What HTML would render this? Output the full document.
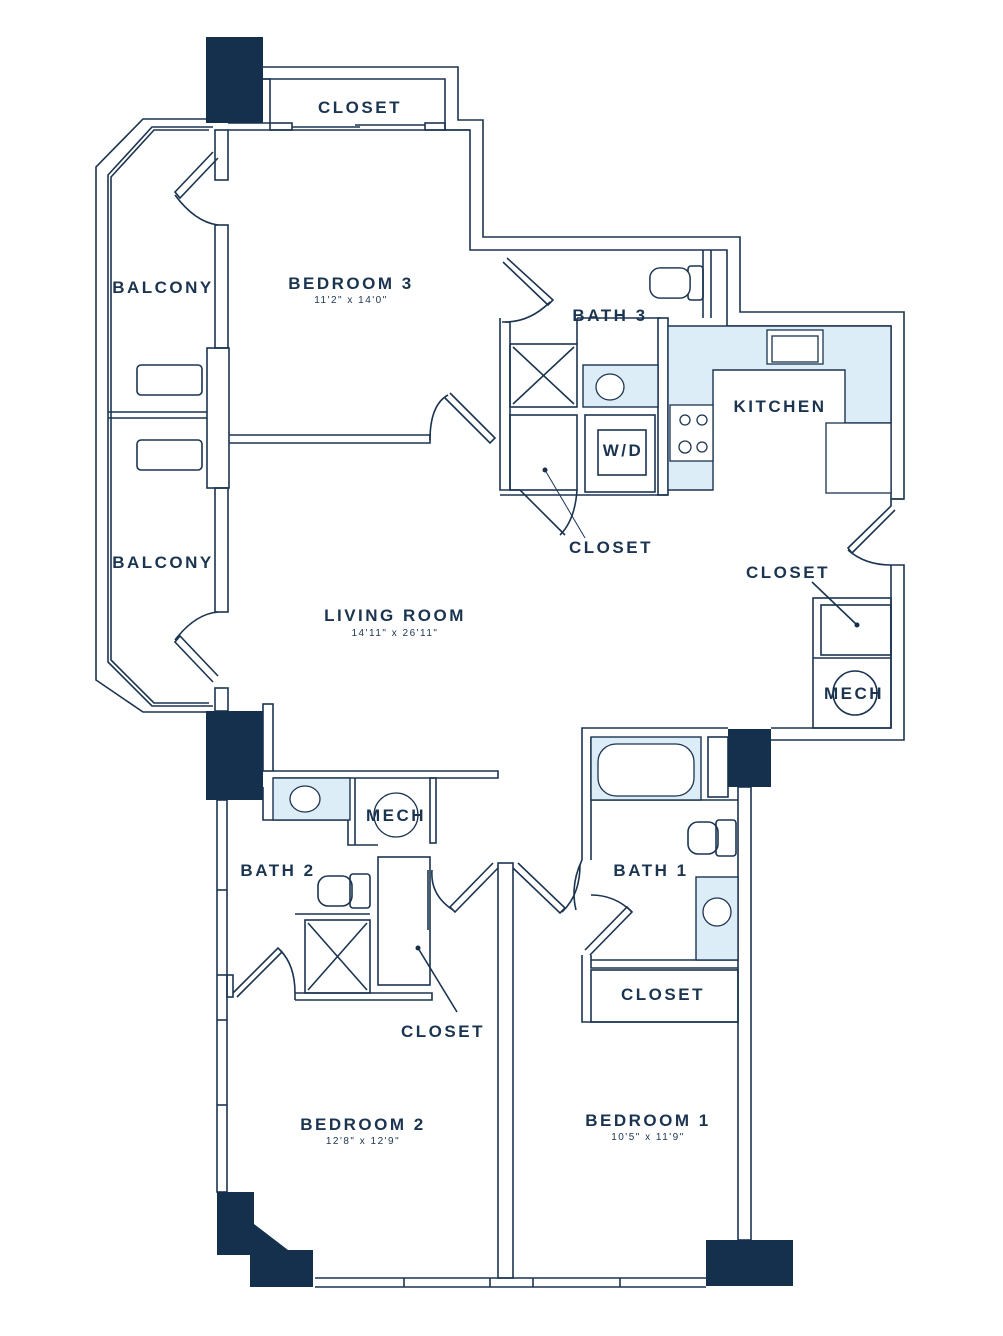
<!DOCTYPE html>
<html><head><meta charset="utf-8"><style>
html,body{margin:0;padding:0;background:#fff}
svg{display:block}
text{font-family:"Liberation Sans",sans-serif;fill:#1b3450;text-anchor:middle}
.l{font-weight:bold;font-size:17px;letter-spacing:2.5px}
.d{font-size:10px;letter-spacing:1.5px}
</style></head><body>
<svg width="1003" height="1336" viewBox="0 0 1003 1336" xmlns="http://www.w3.org/2000/svg">
<g fill="none" stroke="#1b3450" stroke-width="1.6" stroke-linejoin="miter">
<!-- top closet / exterior -->
<polyline points="263,67 458,67 458,120 483,120 483,237 740,237 740,312 904,312 904,499 891,499"/>
<polyline points="263,79 445,79 445,130 470,130 470,250 727,250 727,326 891,326 891,499"/>
<polyline points="263,79 270,79 270,123 228,123"/>
<line x1="228" y1="130" x2="470" y2="130"/>
<rect x="270" y="123" width="22" height="7"/>
<rect x="425" y="123" width="20" height="7"/>
<line x1="292" y1="127" x2="360" y2="127"/><line x1="355" y1="125" x2="425" y2="125"/>
<!-- bath3 wall segments -->
<line x1="703" y1="250" x2="703" y2="318"/><line x1="711" y1="250" x2="711" y2="318"/>
<!-- balcony -->
<polyline points="206,119 143,119 96,167 96,680 143,712 206,712"/>
<polyline points="213,127 152,127 108,175 108,662 152,706 213,706"/>
<polyline points="209,130 154,130 111,177 111,660 154,703 209,703"/>
<line x1="108" y1="412" x2="207" y2="412"/><line x1="108" y1="418" x2="207" y2="418"/>
<rect x="137" y="365" width="65" height="30" rx="4"/>
<rect x="137" y="440" width="65" height="30" rx="4"/>
<!-- bedroom3 / living left wall -->
<rect x="215" y="130" width="13" height="50"/>
<rect x="215" y="225" width="13" height="123"/>
<rect x="207" y="348" width="22" height="140"/>
<rect x="215" y="488" width="13" height="124"/>
<rect x="215" y="688" width="13" height="23"/>
<polyline points="213,152 175,192 180,198 218,158"/>
<path d="M175,195 Q195,222 218,225"/>
<polyline points="213,682 175,642 180,636 218,676"/>
<path d="M175,640 Q195,614 218,612"/>
<!-- bedroom3 bottom wall -->
<polyline points="229,435 430,435 430,443 229,443"/>
<polyline points="450,393 495,438 490,443 445,398"/>
<path d="M430,440 Q430,405 448,395"/>
<!-- bath3 door -->
<polyline points="507,258 553,300 548,305 503,262"/>
<path d="M505,322 Q530,322 550,302"/>
<!-- bath3 block -->
<polyline points="502,322 510,322 510,490 500,490 500,318"/>
<rect x="510" y="344" width="67" height="63"/>
<line x1="513" y1="347" x2="574" y2="404"/><line x1="574" y1="347" x2="513" y2="404"/>
<line x1="577" y1="318" x2="577" y2="344"/><line x1="577" y1="318" x2="660" y2="318"/>
<rect x="510" y="415" width="67" height="75"/>
<polyline points="510,490 520,490 565,535"/>
<path d="M577,490 Q575,520 560,535"/>
<rect x="585" y="415" width="70" height="77"/>
<rect x="598" y="430" width="48" height="45"/>
<line x1="500" y1="495" x2="668" y2="495"/>
<rect x="658" y="318" width="10" height="177"/>
<!-- toilet bath3 -->
<rect x="650" y="268" width="40" height="30" rx="10"/>
<rect x="688" y="266" width="15" height="34" rx="3"/>
<!-- right closet & mech -->
<polyline points="904,499 891,499 891,506 848,548 852,553 895,510"/>
<path d="M848,550 Q865,565 891,565"/>
<polyline points="891,565 904,565 904,740 771,740"/>
<line x1="891" y1="565" x2="891" y2="728"/>
<rect x="813" y="598" width="78" height="130"/>
<rect x="821" y="605" width="70" height="50"/>
<line x1="813" y1="658" x2="891" y2="658"/>
<circle cx="855" cy="693" r="22"/>
<line x1="812" y1="582" x2="857" y2="625"/>
<line x1="771" y1="728" x2="891" y2="728"/>
<!-- bath1 block -->
<polyline points="728,728 582,728 582,860"/>
<polyline points="591,737 591,860"/>
<polyline points="582,955 582,1022 738,1022"/>
<polyline points="591,955 591,968 738,968"/>
<line x1="591" y1="960" x2="738" y2="960"/>
<rect x="591" y="970" width="147" height="52"/>
<rect x="708" y="737" width="20" height="60"/>
<line x1="591" y1="800" x2="738" y2="800"/>
<rect x="688" y="822" width="30" height="32" rx="10"/>
<rect x="716" y="820" width="20" height="36" rx="3"/>
<polyline points="590,955 632,912 627,907 585,950"/>
<path d="M591,895 Q615,895 632,912"/>
<path d="M582,860 Q570,885 576,910"/>
<!-- right wall & bottom -->
<rect x="738" y="787" width="13" height="453"/>
<line x1="315" y1="1278" x2="706" y2="1278"/>
<line x1="315" y1="1287" x2="706" y2="1287"/>
<line x1="404" y1="1278" x2="404" y2="1287"/><line x1="490" y1="1278" x2="490" y2="1287"/>
<line x1="533" y1="1278" x2="533" y2="1287"/><line x1="620" y1="1278" x2="620" y2="1287"/>
<!-- bedroom divider -->
<rect x="498" y="863" width="15" height="415"/>
<polyline points="498,868 455,912 450,907 493,863"/>
<polyline points="513,868 560,913 565,908 518,863"/>
<path d="M432,870 Q430,895 453,910"/>
<path d="M580,865 Q580,895 562,912"/>
<!-- bath2 block -->
<rect x="263" y="704" width="10" height="67"/>
<polyline points="273,771 498,771 498,778 273,778"/>
<polyline points="263,787 263,820 348,820 348,845 378,845"/>
<line x1="355" y1="778" x2="355" y2="845"/>
<rect x="430" y="778" width="6" height="65"/>
<rect x="378" y="857" width="52" height="128"/>
<line x1="428" y1="870" x2="428" y2="930"/>
<line x1="418" y1="948" x2="457" y2="1012"/>
<rect x="305" y="920" width="65" height="73"/>
<line x1="308" y1="923" x2="367" y2="990"/><line x1="367" y1="923" x2="308" y2="990"/>
<polyline points="295,1000 432,1000 432,993 295,993"/>
<line x1="295" y1="993" x2="295" y2="1000"/>
<line x1="295" y1="914" x2="370" y2="914"/>
<rect x="318" y="876" width="34" height="30" rx="10"/>
<rect x="350" y="874" width="20" height="34" rx="3"/>
<polyline points="233,993 278,948 282,952 237,997"/>
<path d="M280,950 Q295,965 295,993"/>
<!-- bedroom2 left wall window -->
<rect x="217" y="800" width="10" height="392"/>
<line x1="217" y1="890" x2="227" y2="890"/><line x1="217" y1="975" x2="227" y2="975"/>
<line x1="217" y1="1020" x2="227" y2="1020"/><line x1="217" y1="1105" x2="227" y2="1105"/>
<rect x="227" y="975" width="6" height="22"/>
</g>
<!-- blue fixtures -->
<g fill="#dcedf7" stroke="#1b3450" stroke-width="1.4">
<polygon points="668,326 891,326 891,423 845,423 845,370 713,370 713,490 668,490"/>
<rect x="583" y="365" width="75" height="42"/>
<rect x="273" y="778" width="77" height="42"/>
<rect x="591" y="737" width="110" height="63"/>
<rect x="696" y="877" width="42" height="83"/>
</g>
<g fill="#fff" stroke="#1b3450" stroke-width="1.3">
<rect x="826" y="423" width="65" height="70"/>
<rect x="767" y="330" width="56" height="34"/>
<rect x="772" y="336" width="46" height="26"/>
<rect x="670" y="405" width="43" height="56"/>
<circle cx="685" cy="420" r="5"/><circle cx="702" cy="420" r="5"/>
<circle cx="685" cy="447" r="6"/><circle cx="702" cy="447" r="5"/>
<ellipse cx="610" cy="387" rx="14" ry="13"/>
<ellipse cx="305" cy="799" rx="15" ry="13"/>
<rect x="598" y="744" width="96" height="52" rx="18"/>
<ellipse cx="717" cy="912" rx="14" ry="14"/>
<circle cx="396" cy="815" r="22"/>
<rect x="650" y="268" width="40" height="30" rx="10"/>
</g>
<!-- columns -->
<g fill="#15304c">
<rect x="206" y="37" width="57" height="86"/>
<rect x="206" y="711" width="57" height="89"/>
<rect x="728" y="729" width="43" height="58"/>
<rect x="706" y="1240" width="87" height="46"/>
<polygon points="217,1192 254,1192 254,1224 288,1250 313,1250 313,1287 250,1287 250,1255 217,1255"/>
<circle cx="545" cy="470" r="2.5"/><circle cx="857" cy="625" r="2.5"/><circle cx="418" cy="948" r="2.5"/>
</g>
<line x1="545" y1="470" x2="585" y2="538" stroke="#1b3450" stroke-width="1"/>
<!-- labels -->
<text class="l" x="360" y="113">CLOSET</text>
<text class="l" x="163" y="293">BALCONY</text>
<text class="l" x="351" y="289">BEDROOM 3</text>
<text class="d" x="351" y="303">11'2" x 14'0"</text>
<text class="l" x="610" y="321">BATH 3</text>
<text class="l" x="780" y="412">KITCHEN</text>
<text class="l" x="623" y="456">W/D</text>
<text class="l" x="611" y="553">CLOSET</text>
<text class="l" x="788" y="578">CLOSET</text>
<text class="l" x="854" y="699">MECH</text>
<text class="l" x="395" y="621">LIVING ROOM</text>
<text class="d" x="395" y="636">14'11" x 26'11"</text>
<text class="l" x="163" y="568">BALCONY</text>
<text class="l" x="396" y="821">MECH</text>
<text class="l" x="278" y="876">BATH 2</text>
<text class="l" x="651" y="876">BATH 1</text>
<text class="l" x="663" y="1000">CLOSET</text>
<text class="l" x="443" y="1037">CLOSET</text>
<text class="l" x="363" y="1130">BEDROOM 2</text>
<text class="d" x="363" y="1144">12'8" x 12'9"</text>
<text class="l" x="648" y="1126">BEDROOM 1</text>
<text class="d" x="648" y="1140">10'5" x 11'9"</text>
</svg>
</body></html>
